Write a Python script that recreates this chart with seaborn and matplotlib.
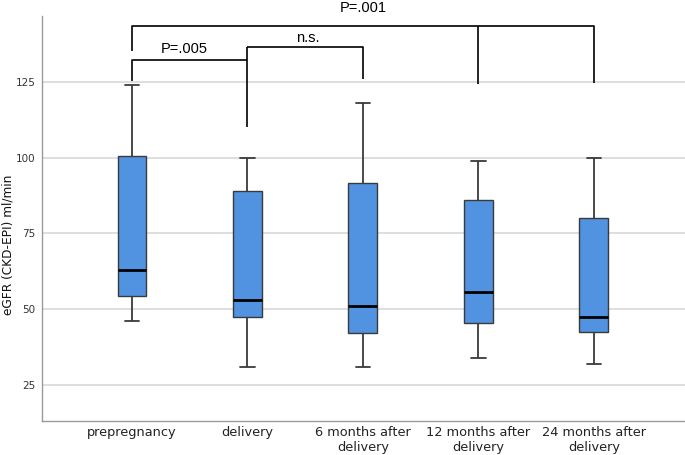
import logging

import matplotlib
matplotlib.use("Agg")
import matplotlib.pyplot as plt
import pandas as pd
import seaborn as sns

logging.basicConfig(level=logging.INFO)

# Five-number summary per stage
stages = ["prepregnancy", "delivery", "6 months after\ndelivery",
          "12 months after\ndelivery", "24 months after\ndelivery"]
lower_whisker = [46, 31, 31, 34, 32]
q1 = [54.5, 47.5, 42, 45.5, 42.5]
median = [63, 53, 51, 55.5, 47.5]
q3 = [100.5, 89, 91.5, 86, 80]
upper_whisker = [124, 100, 118, 99, 100]
y_ticks = [25, 50, 75, 100, 125]
comparison_labels = ["P=.005", "n.s.", "P=.001"]


def build_frame() -> pd.DataFrame:
    """
    Long table with the five summary values of each stage, so that
    a boxplot with whiskers at min/max reproduces them exactly.
    """
    rows = []
    for i, stage in enumerate(stages):
        for v in (lower_whisker[i], q1[i], median[i], q3[i], upper_whisker[i]):
            rows.append({"stage": stage, "egfr": v})
    return pd.DataFrame(rows)


def draw_brackets(ax):
    """Significance brackets above the boxes."""
    kw = dict(color="black", lw=1.2, clip_on=False, solid_capstyle="butt")
    # prepregnancy vs delivery
    ax.plot([0, 0, 1], [125.3, 132.2, 132.2], **kw)
    # delivery vs 6 months (delivery leg shared)
    ax.plot([1, 1], [110, 136.5], **kw)
    ax.plot([1, 2, 2], [136.5, 136.5, 125.8], **kw)
    # prepregnancy vs 12 / 24 months
    ax.plot([0, 0, 4, 4], [135.2, 143.4, 143.4, 124.7], **kw)
    ax.plot([3, 3], [143.4, 124.4], **kw)

    tkw = dict(ha="center", fontsize=10.5, family="Liberation Sans",
               color="black", clip_on=False)
    ax.text(0.45, 135.9, comparison_labels[0], va="center", **tkw)
    ax.text(1.52, 139.6, comparison_labels[1], va="center", **tkw)
    ax.text(2.0, 147.9, comparison_labels[2], va="baseline", **tkw)


def plot_egfr_boxes(save_path: str = "out.png"):
    """
    Boxplot of eGFR across pregnancy stages.
    """
    sns.set_theme(style="white")
    plt.rcParams["font.family"] = ["DejaVu Sans"]

    df = build_frame()
    fig = plt.figure(figsize=(6.85, 4.55), dpi=100)
    ax = fig.add_axes([0.0618, 0.0754, 0.9382, 0.8894])

    for y in y_ticks:
        ax.axhline(y, color="#d4d4d4", lw=1.1, zorder=0)

    sns.boxplot(data=df, x="stage", y="egfr", order=stages, whis=(0, 100),
                width=0.25, color="#5193e0", saturation=1, linecolor="#3a3a3a",
                linewidth=1.0, ax=ax,
                medianprops=dict(color="black", lw=2.0),
                whiskerprops=dict(color="#3a3a3a", lw=1.3),
                capprops=dict(color="#3a3a3a", lw=1.3))

    ax.set_xlim(-0.777, 4.79)
    ax.set_ylim(13.2, 146.7)
    ax.set_yticks(y_ticks)
    ax.tick_params(axis="y", length=0, pad=5, labelsize=7.5, labelcolor="#333333")
    ax.tick_params(axis="x", length=0, pad=4, labelsize=9.3, labelcolor="#222222")
    ax.set_xlabel("")
    ax.set_ylabel("eGFR (CKD-EPI) ml/min", fontsize=8.7, color="#111111")
    ax.yaxis.set_label_coords(-0.044, 0.434)

    for side in ("top", "right"):
        ax.spines[side].set_visible(False)
    for side in ("left", "bottom"):
        ax.spines[side].set_color("#9a9a9a")
        ax.spines[side].set_linewidth(1.0)

    draw_brackets(ax)

    fig.savefig(save_path, dpi=100)
    logging.info(f"eGFR boxplot saved to {save_path}")


if __name__ == "__main__":
    plot_egfr_boxes()
